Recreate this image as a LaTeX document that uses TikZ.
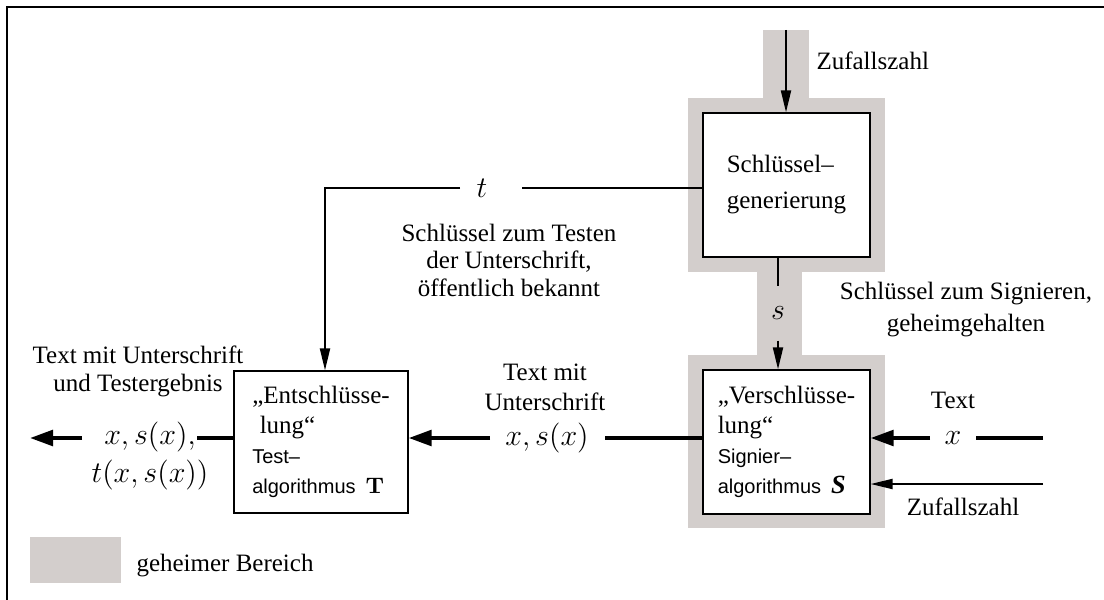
\documentclass[tikz,border=0pt]{standalone}
\usepackage[no-math]{fontspec}
\setmainfont{Liberation Serif}
\setsansfont{Liberation Sans}
\usetikzlibrary{arrows.meta,calc}
\definecolor{secret}{RGB}{211,206,204}
\newcommand\algfont{\sffamily\fontsize{8}{10}\selectfont}

\begin{document}
\begin{tikzpicture}[x=0.4pt,y=-0.4pt,
  box/.style={draw,line width=0.5pt,fill=white,minimum width=66.8pt,
    minimum height=57.6pt,inner sep=0pt,align=left,
    font=\fontsize{10}{12}\selectfont},
  lbl/.style={inner sep=0pt,align=center},
  mth/.style={inner sep=0pt,font=\fontsize{13}{15.2}\selectfont},
  thinline/.style={line width=0.8pt},
  thinarrow/.style={line width=0.8pt,-{Triangle[length=8.8pt,width=4pt]}},
  thickline/.style={line width=1.6pt},
  thickarrow/.style={line width=1.6pt,-{Triangle[length=9.2pt,width=6.2pt]}}
]
\useasboundingbox (0,0) rectangle (1104,599);

% frame
\draw[line width=0.8pt] (7,620) -- (7,7) -- (1120,7);

% secret area around key generation and signing
\fill[secret] (763,30) rectangle (809,98);
\fill[secret] (688,98) rectangle (885,272);
\fill[secret] (757,272) rectangle (802,355);
\fill[secret] (688,355) rectangle (885,528);

% boxes
\node[box] (kg) at (786.5,185) {Schlüssel–\\[2.4pt]generierung};
\node[box] (sg) at (786.5,442) {„Verschlüsse-\\lung“\\{\algfont Signier–}\\{\algfont algorithmus\hspace{4pt}\rmfamily\bfseries\itshape\fontsize{10.5}{10}\selectfont S}};
\node[box,minimum width=69.6pt,minimum height=56.8pt] (te) at (321,442)
  {„Entschlüsse-\\\hspace*{3pt}lung“\\{\algfont Test–}\\{\algfont algorithmus\hspace{4pt}\fontsize{9.5}{10}\selectfont$\mathbf{T}$}};

% random number into key generation
\coordinate (rtop) at (786,30);
\draw[thinarrow] (rtop) -- (rtop |- kg.north);
\node[lbl,anchor=west] (rlbl) at (816,61) {Zufallszahl};

% secret key s
\node[mth,minimum height=21.6pt] (sl) at (778,313) {$s$};
\draw[thinline] (kg.south -| sl) -- (sl.north);
\draw[thinarrow] (sl.south) -- (sl |- sg.north);
\node[lbl,font=\fontsize{10}{12.8}\selectfont] (sdesc) at (966,310) {Schlüssel zum Signieren,\\geheimgehalten};

% public key t
\node[mth] (tl) at (482,188) {$t$};
\coordinate (tA) at (522,188);
\coordinate (tB) at (460,188);
\draw[thinline] (kg.west |- tA) -- (tA);
\draw[thinarrow] (tB) -| ([xshift=1.6pt]te.north);
\node[lbl,font=\fontsize{10}{11}\selectfont] (tdesc) at (509,260) {Schlüssel zum Testen\\der Unterschrift,\\öffentlich bekannt};

% text x into signing
\node[mth] (xl) at (953,438) {$x$};
\coordinate (xsrc) at (1043,438);
\coordinate (xgapR) at (976,438);
\coordinate (xgapL) at (930,438);
\draw[thickline] (xsrc) -- (xgapR);
\draw[thickarrow] (xgapL) -- (xgapL -| sg.east);
\node[lbl] (txt) at (953,400) {Text};

% random number into signing
\coordinate (zsrc) at (1043,484);
\draw[thinarrow] (zsrc) -- (zsrc -| sg.east);
\node[lbl] (zl) at (963,507) {Zufallszahl};

% signed text to test
\node[mth] (ml) at (547,438) {$x, s(x)$};
\coordinate (mR) at (605,438);
\coordinate (mL) at (490,438);
\draw[thickline] (sg.west |- mR) -- (mR);
\draw[thickarrow] (mL) -- (mL -| te.east);
\node[lbl,font=\fontsize{10}{12}\selectfont] (mdesc) at (545,387) {Text mit\\Unterschrift};

% output
\node[mth,align=center] (out) at (150,456) {$x, s(x),$\\$t(x, s(x))$};
\coordinate (oR) at (197,438);
\coordinate (oL) at (82,438);
\coordinate (oEnd) at (30,438);
\draw[thickline] (te.west |- oR) -- (oR);
\draw[thickarrow] (oL) -- (oEnd);
\node[lbl,font=\fontsize{10}{11.2}\selectfont] (odesc) at (138,371) {Text mit Unterschrift\\und Testergebnis};

% legend
\node[fill=secret,minimum width=36.4pt,minimum height=18.4pt,inner sep=0pt] (swatch) at (75.5,560) {};
\node[lbl,anchor=west] (legend) at (136,566) {geheimer Bereich};
\end{tikzpicture}
\end{document}
